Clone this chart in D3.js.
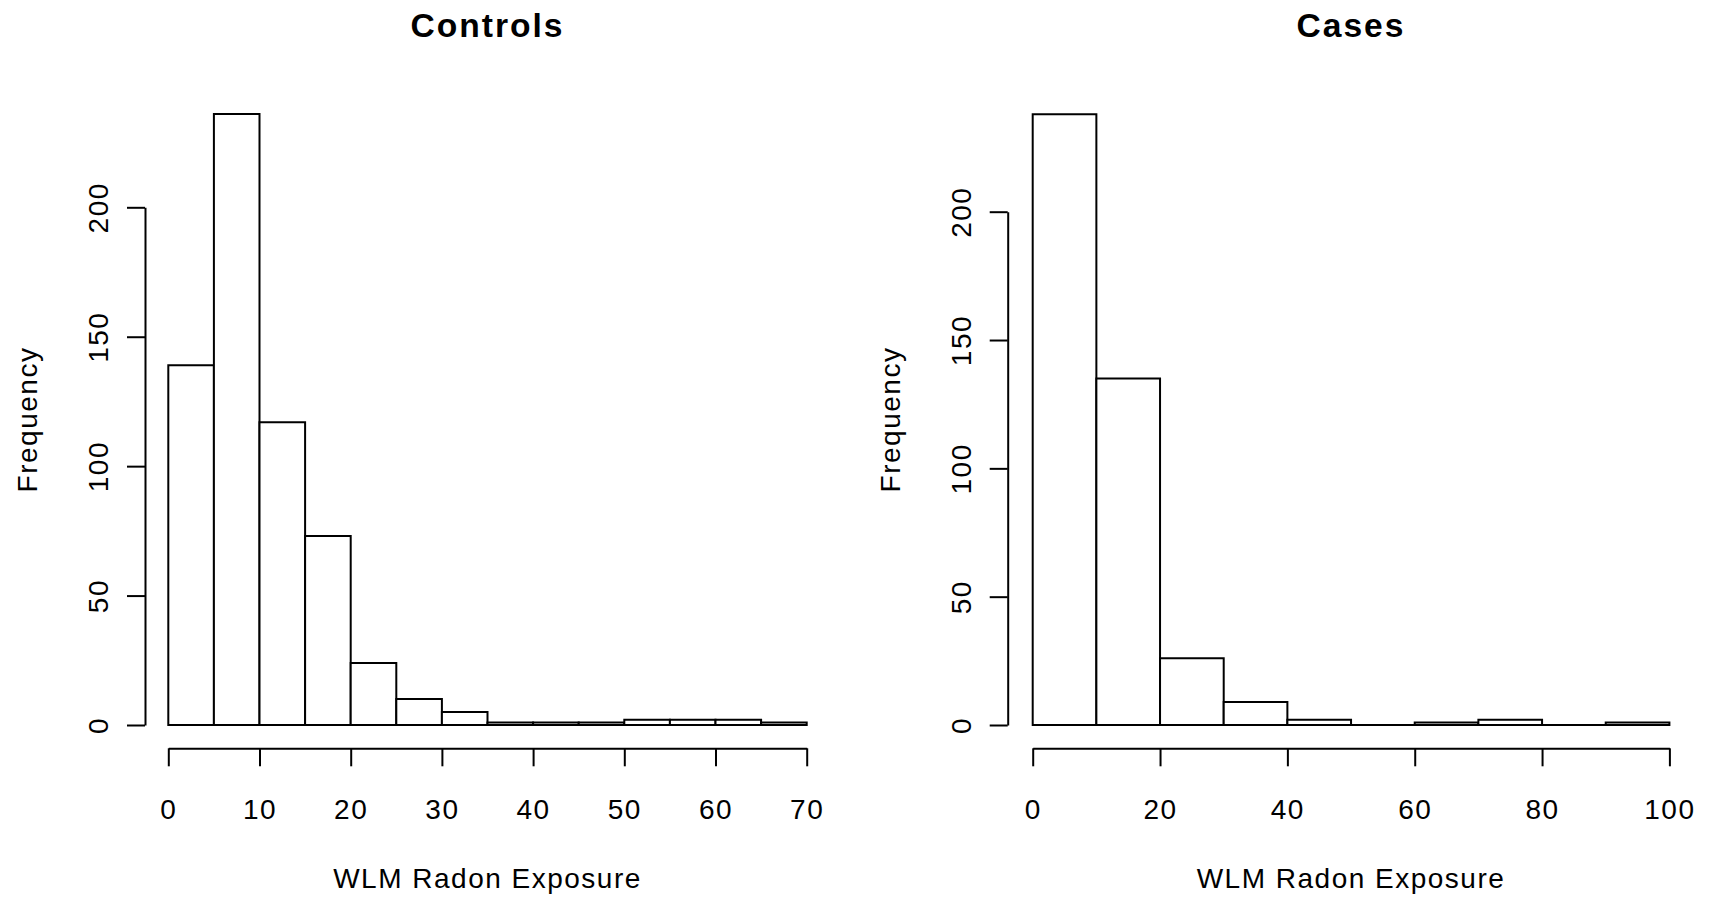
<!DOCTYPE html>
<html>
<head>
<meta charset="utf-8">
<script src="https://cdn.jsdelivr.net/npm/d3@7"></script>
<style>
  html, body { margin: 0; padding: 0; background: #fff; }
  svg text { font-family: "Liberation Sans", Arial, sans-serif; fill: #000; }
</style>
</head>
<body>
<svg id="chart" width="1718" height="901"></svg>
<script>
// ---- data ----
const controlsBinWidth = 5;
const controlsCounts = [139, 236, 117, 73, 24, 10, 5, 1, 1, 1, 2, 2, 2, 1];
const casesBinWidth = 10;
const casesCounts = [238, 135, 26, 9, 2, 0, 1, 2, 0, 1];
const controlsXTicks = [0, 10, 20, 30, 40, 50, 60, 70];
const casesXTicks = [0, 20, 40, 60, 80, 100];
const yTicks = [0, 50, 100, 150, 200];
const titles = ["Controls", "Cases"];
const xLabel = "WLM Radon Exposure";
const yLabel = "Frequency";

const svg = d3.select("#chart");

const panels = [
  { title: titles[0], counts: controlsCounts, bw: controlsBinWidth, xTicks: controlsXTicks,
    xDomain: [0, 70], xRange: [168.3, 806.7], yRange: [725, 207.3], axisX: 145, center: 487.5 },
  { title: titles[1], counts: casesCounts, bw: casesBinWidth, xTicks: casesXTicks,
    xDomain: [0, 100], xRange: [1032.7, 1669.4], yRange: [725, 211.7], axisX: 1007.7, center: 1351 }
];

const axisY = 748.3;
const tickLen = 18;

panels.forEach(p => {
  const x = d3.scaleLinear().domain(p.xDomain).range(p.xRange);
  const y = d3.scaleLinear().domain([0, 200]).range(p.yRange);
  const g = svg.append("g");

  // bars
  const bins = p.counts.map((c, i) => ({ x0: i * p.bw, x1: (i + 1) * p.bw, c }));
  g.selectAll("path.bar").data(bins).join("path")
    .attr("class", "bar")
    .attr("d", d => `M${x(d.x0)},${y(0)}V${y(d.c)}H${x(d.x1)}V${y(0)}Z`)
    .attr("fill", "#fff")
    .attr("stroke", "#000")
    .attr("stroke-width", 2)
    .attr("stroke-linejoin", "miter");

  // x axis
  const xa = g.append("g")
    .attr("transform", `translate(0,${axisY})`)
    .call(d3.axisBottom(x).tickValues(p.xTicks).tickSizeInner(tickLen).tickSizeOuter(0).tickPadding(0));
  xa.select(".domain").attr("stroke-width", 2);
  xa.selectAll(".tick line").attr("stroke-width", 2);
  xa.selectAll(".tick text")
    .attr("y", 71).attr("dy", null)
    .style("font-size", "28px").style("letter-spacing", "1.5px")
    .attr("font-family", null);

  // y axis
  const ya = g.append("g")
    .attr("transform", `translate(${p.axisX},0)`)
    .call(d3.axisLeft(y).tickValues(yTicks).tickSizeInner(tickLen).tickSizeOuter(0));
  ya.select(".domain").attr("stroke-width", 2);
  ya.selectAll(".tick line").attr("stroke-width", 2);
  ya.selectAll(".tick text")
    .attr("x", null).attr("dy", null)
    .attr("transform", "translate(-37,0) rotate(-90)")
    .attr("text-anchor", "middle")
    .style("font-size", "28px").style("letter-spacing", "1.5px")
    .attr("font-family", null);
  svg.selectAll(".tick text").attr("fill", "#000");

  // title
  g.append("text")
    .attr("x", p.center).attr("y", 37.3)
    .attr("text-anchor", "middle")
    .style("font-size", "33.6px").style("font-weight", "bold").style("letter-spacing", "2px")
    .text(p.title);

  // x label
  g.append("text")
    .attr("x", p.center).attr("y", 888)
    .attr("text-anchor", "middle")
    .style("font-size", "28px").style("letter-spacing", "1.5px")
    .text(xLabel);

  // y label
  g.append("text")
    .attr("transform", `translate(${p.axisX - 108},419.5) rotate(-90)`)
    .attr("text-anchor", "middle")
    .style("font-size", "28px").style("letter-spacing", "1.5px")
    .text(yLabel);
});
</script>
</body>
</html>
